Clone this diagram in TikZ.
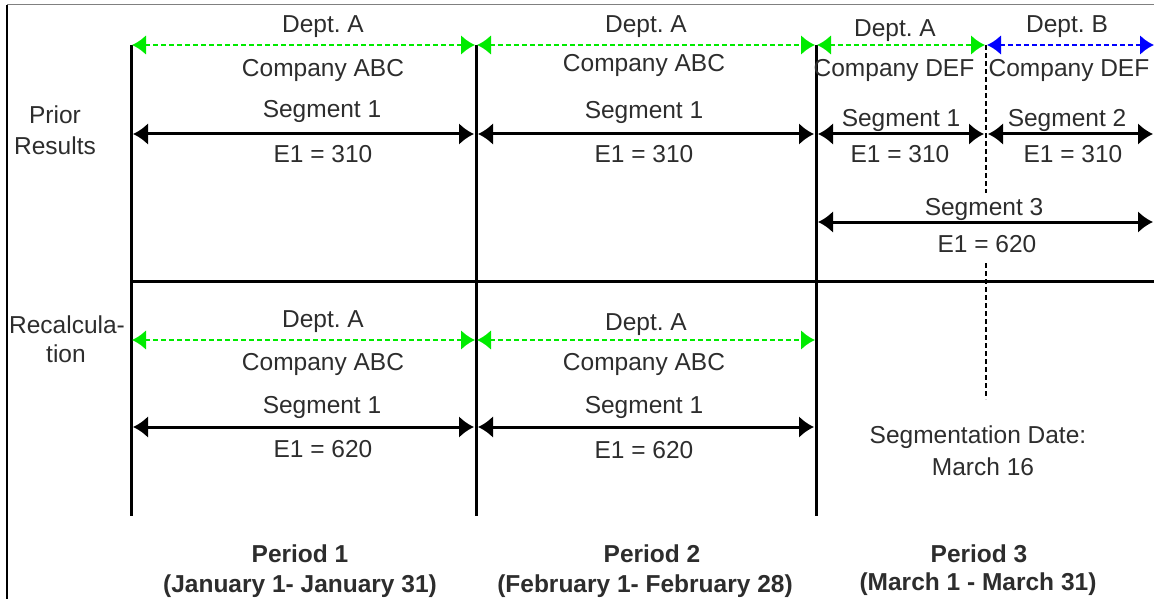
\documentclass[tikz,border=0pt]{standalone}
\usepackage{fontspec}
\setmainfont{Liberation Sans}
\usetikzlibrary{arrows.meta}
\definecolor{txtc}{RGB}{45,45,45}
\definecolor{grn}{RGB}{0,235,0}
\definecolor{blu}{RGB}{0,0,255}
\frenchspacing
\begin{document}
\begin{tikzpicture}[x=1pt,y=-1pt,
  txt/.style={font=\fontsize{24.5}{29}\selectfont, text=txtc, inner sep=0pt, anchor=base},
  btxt/.style={txt, font=\fontsize{24.5}{29}\selectfont\bfseries},
  vline/.style={line width=3pt, black},
  tipA/.tip={Latex[length=15pt,width=22pt]},
  tipG/.tip={Latex[length=14pt,width=20pt]},
  seg/.style={line width=3pt, black, shorten <=2pt, shorten >=2pt, {tipA}-{tipA}},
  deptA/.style={line width=2.5pt, grn, dash pattern=on 5pt off 3pt, shorten <=1pt, shorten >=1pt, {tipG}-{tipG}},
  deptB/.style={line width=2.5pt, blu, dash pattern=on 5pt off 3pt, shorten <=1pt, shorten >=1pt, {tipG}-{tipG}},
  segdate/.style={line width=2.5pt, black, dash pattern=on 5pt off 3pt}
]
\useasboundingbox (0,0) rectangle (1154,599);
% frame
\coordinate (c0) at (7,5);
\coordinate (c1) at (1154,5);
\coordinate (c2) at (7,599);
\draw[gray, line width=1pt] (c0) -- (c1);
\draw[black, line width=1.8pt] (c0) -- (c2);

% grid coordinates
\foreach \n/\x in {1/131,2/476,3/816,4/986,5/1155}{
  \coordinate (a\n) at (\x,45);
  \coordinate (s\n) at (\x,134);
  \coordinate (g\n) at (\x,340);
  \coordinate (k\n) at (\x,427);
}
\coordinate (b1) at (131,516);
\coordinate (b2) at (476,516);
\coordinate (b3) at (816,516);
\coordinate (t3) at (816,222);
\coordinate (t5) at (1155,222);
\coordinate (d1) at (131,281);
\coordinate (d5) at (1154,281);
\coordinate (m1) at (986,45);
\coordinate (m2) at (986,193);
\coordinate (m3) at (986,263);
\coordinate (m4) at (986,399);

% vertical period lines
\draw[vline] (a1) -- (b1);
\draw[vline] (a2) -- (b2);
\draw[vline] (a3) -- (b3);
% divider
\draw[vline] (d1) -- (d5);
% segmentation date line
\draw[segdate] (m1) -- (m2);
\draw[segdate] (m3) -- (m4);

% prior results arrows
\draw[deptA] (a1) -- (a2);
\draw[deptA] (a2) -- (a3);
\draw[deptA] (a3) -- (a4);
\draw[deptB] (a4) -- (a5);
\draw[seg] (s1) -- (s2);
\draw[seg] (s2) -- (s3);
\draw[seg] (s3) -- (s4);
\draw[seg] (s4) -- (s5);
\draw[seg] (t3) -- (t5);
% recalculation arrows
\draw[deptA] (g1) -- (g2);
\draw[deptA] (g2) -- (g3);
\draw[seg] (k1) -- (k2);
\draw[seg] (k2) -- (k3);

% row labels
\node[txt] (prior) at (55,124) {Prior};
\node[txt] (results) at (55,154) {Results};
\node[txt] (recalc) at (67,333) {Recalcula-};
\node[txt] (tion) at (66,362) {tion};

% period 1 prior
\node[txt] (p1d) at (323,33) {Dept. A};
\node[txt] (p1c) at (323,77) {Company ABC};
\node[txt] (p1s) at (322,118) {Segment 1};
\node[txt] (p1e) at (323,163) {E1 = 310};
% period 2 prior
\node[txt] (p2d) at (646,33) {Dept. A};
\node[txt] (p2c) at (644,72) {Company ABC};
\node[txt] (p2s) at (644,119) {Segment 1};
\node[txt] (p2e) at (644,163) {E1 = 310};
% period 3 prior
\node[txt] (p3d) at (895,37) {Dept. A};
\node[txt] (p3c) at (894,77) {Company DEF};
\node[txt] (p3s) at (901,127) {Segment 1};
\node[txt] (p3e) at (900,163) {E1 = 310};
\node[txt] (p4d) at (1067,33) {Dept. B};
\node[txt] (p4c) at (1069,77) {Company DEF};
\node[txt] (p4s) at (1067,127) {Segment 2};
\node[txt] (p4e) at (1073,163) {E1 = 310};
\node[txt] (s3l) at (984,215) {Segment 3};
\node[txt] (s3e) at (987,252) {E1 = 620};

% recalculation
\node[txt] (r1d) at (323,327) {Dept. A};
\node[txt] (r1c) at (323,370) {Company ABC};
\node[txt] (r1s) at (322,413) {Segment 1};
\node[txt] (r1e) at (323,457) {E1 = 620};
\node[txt] (r2d) at (646,330) {Dept. A};
\node[txt] (r2c) at (644,370) {Company ABC};
\node[txt] (r2s) at (644,413) {Segment 1};
\node[txt] (r2e) at (644,458) {E1 = 620};
\node[txt] (sd1) at (978,443) {Segmentation Date:};
\node[txt] (sd2) at (983,475) {March 16};

% period labels
\node[btxt] (per1) at (300,562) {Period 1};
\node[btxt] (per1d) at (300,592) {(January 1- January 31)};
\node[btxt] (per2) at (652,562) {Period 2};
\node[btxt] (per2d) at (645,592) {(February 1- February 28)};
\node[btxt] (per3) at (979,562) {Period 3};
\node[btxt] (per3d) at (978,590) {(March 1 - March 31)};
\end{tikzpicture}
\end{document}
